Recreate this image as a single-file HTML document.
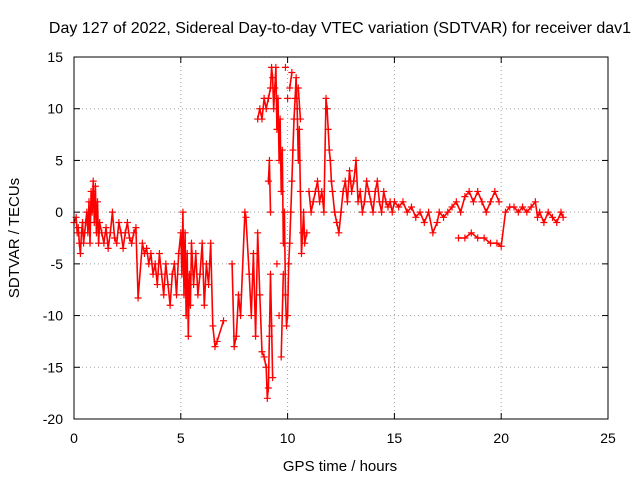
<!DOCTYPE html>
<html><head><meta charset="utf-8"><style>
body{margin:0;background:#fff}
svg{display:block;font-family:"Liberation Sans",sans-serif}
</style></head><body>
<svg id="chart" width="640" height="480">
<text x="340" y="33" text-anchor="middle" font-size="16">Day 127 of 2022, Sidereal Day-to-day VTEC variation (SDTVAR) for receiver dav1</text>
<text x="340" y="471" text-anchor="middle" font-size="15">GPS time / hours</text>
<text transform="translate(19,238) rotate(-90)" text-anchor="middle" font-size="15">SDTVAR / TECUs</text>
<g id="grid"></g><g id="ticks"></g><g id="lines"></g><g id="points"></g>
<rect x="74" y="57" width="534" height="362" fill="none" stroke="#000"/>
</svg>
<script>
const xTicks=[0,5,10,15,20,25];
const yTicks=[-20,-15,-10,-5,0,5,10,15];
const times=[0,0.1,0.15,0.2,0.25,0.3,0.35,0.4,0.45,0.5,0.55,0.6,0.65,0.7,0.75,0.8,0.85,0.9,0.95,1.0,1.05,1.1,1.15,1.2,
1.3,1.4,1.5,1.6,1.7,1.8,1.9,2.0,2.1,2.2,2.3,2.4,2.5,2.6,2.7,2.8,2.9,3.0,
3.2,3.3,3.4,3.5,3.6,3.7,3.8,3.9,4.0,4.1,4.2,4.3,4.4,4.5,4.6,4.7,4.8,4.9,5.0,5.05,5.1,5.15,5.2,5.25,5.3,5.35,5.4,5.45,5.5,5.6,5.7,5.8,5.9,6.0,6.1,6.2,6.3,6.4,6.5,6.6,6.7,7.0,7.4,7.5,7.6,7.7,7.8,8.0,8.05,8.2,8.3,8.4,8.5,8.6,8.7,8.8,8.9,9.0,9.05,9.1,9.15,9.2,9.25,9.3,9.1,9.15,9.2,
8.6,8.7,8.8,8.9,9.0,9.1,9.2,9.25,9.3,9.35,9.4,9.45,9.5,9.55,9.6,9.65,9.7,9.75,9.8,9.85,9.9,9.95,10.0,10.05,10.1,10.15,10.2,10.25,10.3,10.35,10.4,10.45,10.5,10.55,10.6,10.65,10.7,10.75,10.8,10.9,10.1,10.2,10.0,9.9,10.5,10.6,9.7,9.8,9.6,9.5,
11.0,11.1,11.2,11.3,11.4,11.5,11.6,11.7,11.8,11.85,11.9,11.95,12.0,12.05,12.1,12.2,12.3,12.4,12.5,12.6,12.7,12.8,12.9,13.0,13.1,13.2,13.3,13.4,13.5,13.6,13.7,13.8,13.9,14.0,14.1,14.2,14.3,14.4,14.5,14.6,14.7,14.8,14.9,
15.0,15.2,15.4,15.6,15.8,16.0,16.2,16.4,16.6,16.8,17.0,17.1,17.3,17.5,17.7,17.9,18.1,18.3,18.5,18.7,18.9,19.1,19.3,19.5,19.7,19.9,18.0,18.3,18.6,18.9,19.2,19.5,19.8,20.0,
20.2,20.4,20.6,20.8,21.0,21.2,21.4,21.6,21.7,21.8,22.0,22.2,22.4,22.6,22.8,22.9];
const values=[-1,-0.5,-2,-1.5,-3,-4,-2,-1,-3,-2,-1,0,-2,1,-3,2,0,3,-1,2.5,-2,1,-3,-1,
-2,-3,-1.5,-3.5,-2,0,-2.5,-3,-1,-2,-3.5,-2,-1,-2.5,-3,-2,-1.5,-8.3,
-3,-4,-3.5,-5,-4,-6,-5,-7,-4,-6,-8,-5,-7,-9,-6,-5,-8,-4,-2,-6,0,-8,-2,-10,-4,-12,-6,-9,-3,-7,-4,-8,-6,-3,-9,-5,-7,-3,-11,-13,-12.5,-10.5,-5,-13,-12,-8,-10,0,-0.5,-6,-10,-4,-12,-2,-8,-13.5,-14,-15,-18,-17,-12,-6,-11,-16,3,5,0,
9,10,9,11,10,11,12,14,13,10,12,14,8,11,5,9,2,6,-3,0,-8,-11,-10,-5,-3,0,3,6,9,11,13,10,5,8,2,-4,-2,0,-3,-2,12,13.5,11,14,12,9,-14,-6,-10,-5,
2,0,1,2,3,1,2,0,11,10,8,6,5,3,2,0,-1,-2,0,2,3,1,4,2,3,5,1,2,0,1,3,2,1,0,2,3,1,0,2,1,0.5,1,0,
1,0.5,1,0,0.5,-0.5,0,-1,0,-2,-1,0,-0.5,0,0.5,1,0,1.5,2,1,2,1,0,1,2,1,-2.5,-2.5,-2,-2.5,-2.5,-3,-3,-3.3,
0,0.5,0.5,0,0.5,0,0.5,1,-0.5,0,-1,0,-0.5,-1,0,-0.5];
const NS='http://www.w3.org/2000/svg';
const X0=74,X1=608,Y0=419,Y1=57;
function xs(v){return X0+(v-0)/(25-0)*(X1-X0);}
function ys(v){return Y0-(v+20)/(15+20)*(Y0-Y1);}
const grid=document.getElementById('grid'),ticks=document.getElementById('ticks'),pts=document.getElementById('points'),lines=document.getElementById('lines');
function mk(tag,a,parent){const e=document.createElementNS(NS,tag);for(const k in a)e.setAttribute(k,a[k]);parent.appendChild(e);return e;}
xTicks.forEach(t=>{const x=xs(t);
 if(t>0&&t<25){const g=mk('line',{x1:x,x2:x,y1:Y0,y2:Y1,stroke:'#a0a0a0','stroke-dasharray':'1,3'},grid);
 
 }
 mk('line',{x1:x,x2:x,y1:Y0,y2:Y0-6,stroke:'#000'},ticks);mk('line',{x1:x,x2:x,y1:Y1,y2:Y1+6,stroke:'#000'},ticks);
 const l=mk('text',{x:x,y:443,'text-anchor':'middle','font-size':14},ticks);l.textContent=t;
 
 });
yTicks.forEach(t=>{const y=ys(t);
 if(t>-20&&t<15){const g=mk('line',{x1:X0,x2:X1,y1:y,y2:y,stroke:'#a0a0a0','stroke-dasharray':'1,3'},grid);
 
 }
 mk('line',{x1:X0,x2:X0+6,y1:y,y2:y,stroke:'#000'},ticks);mk('line',{x1:X1,x2:X1-6,y1:y,y2:y,stroke:'#000'},ticks);
 const l=mk('text',{x:63,y:y+5,'text-anchor':'end','font-size':14},ticks);l.textContent=t;
 
 });
// dense trace connecting consecutive samples (breaks at time jumps)
let d='';
for(let i=0;i<times.length;i++){const x=xs(times[i]),y=ys(values[i]);
 const brk=i===0||times[i]<times[i-1]||times[i]-times[i-1]>0.35;
 d+=(brk?'M':'L')+x.toFixed(1)+','+y.toFixed(1);}
const tr=mk('path',{d:d,stroke:'#f00','stroke-width':1.6,fill:'none','stroke-linejoin':'round'},lines);


for(let i=0;i<times.length;i++){const x=xs(times[i]),y=ys(values[i]);
 const p=mk('path',{d:`M${x-3.5},${y}h7M${x},${y-3.5}v7`,stroke:'#f00','stroke-width':1.2,fill:'none'},pts);
 
 }
</script>
</body></html>
